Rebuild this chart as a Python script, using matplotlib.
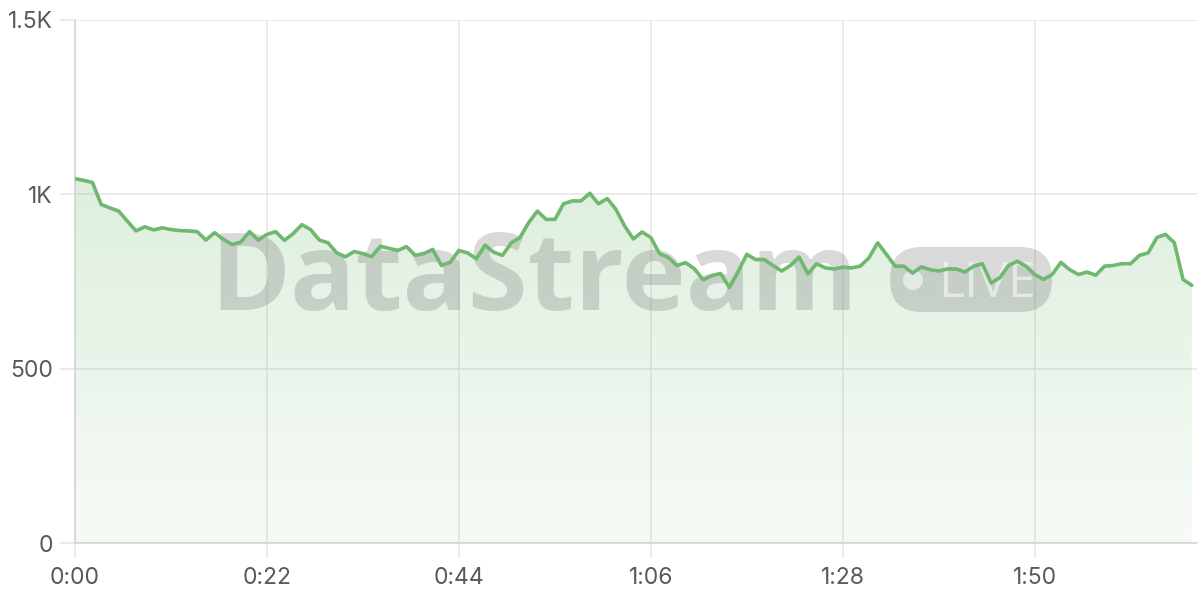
import numpy as np
import matplotlib
matplotlib.use("Agg")
import matplotlib.pyplot as plt
from matplotlib.patches import FancyBboxPatch, Circle
from matplotlib.transforms import IdentityTransform
from matplotlib.colors import LinearSegmentedColormap

# ---- data (one sample per second) ----
values = [1045, 1040, 1034, 971, 961, 952, 923, 895, 907, 898,
          904, 899, 896, 895, 893, 869, 890, 871, 856, 863,
          893, 869, 885, 893, 868, 887, 913, 899, 869, 861,
          832, 821, 836, 830, 821, 851, 845, 839, 850, 825,
          830, 842, 796, 805, 839, 832, 815, 854, 834, 825,
          861, 876, 919, 952, 928, 928, 973, 981, 981, 1003,
          973, 988, 957, 909, 872, 892, 876, 830, 819, 796,
          804, 786, 755, 767, 773, 733, 778, 828, 813, 813,
          796, 780, 796, 820, 772, 801, 789, 786, 791, 789,
          794, 818, 861, 828, 794, 794, 774, 792, 784, 780,
          786, 786, 777, 794, 801, 746, 761, 796, 808, 794,
          770, 756, 770, 805, 784, 770, 777, 768, 794, 796,
          801, 801, 825, 832, 876, 885, 861, 756, 739]
seconds = np.arange(len(values))
x_ticks = [0, 22, 44, 66, 88, 110]
x_tick_labels = ["0:00", "0:22", "0:44", "1:06", "1:28", "1:50"]
y_ticks = [0, 500, 1000, 1500]
y_tick_labels = ["0", "500", "1K", "1.5K"]

LINE = "#6fb86f"
GRID = "#e6e6e6"
TXT = "#595959"

plt.rcParams["font.family"] = ["Inter", "DejaVu Sans"]

fig = plt.figure(figsize=(12, 6), dpi=100)
ax = fig.add_axes([75 / 1200, 57 / 600, 1122 / 1200, 523 / 600])

xmax = 128.6
ax.set_xlim(0, xmax)
ax.set_ylim(0, 1500)

# gradient fill under the line
poly = ax.fill_between(seconds, values, 0, color="none", lw=0, zorder=1)
cmap = LinearSegmentedColormap.from_list(
    "g", [(0.435, 0.722, 0.435, 0.06), (0.435, 0.722, 0.435, 0.23)])
grad = np.linspace(0, 1, 256).reshape(-1, 1)
im = ax.imshow(grad, extent=[0, xmax, 0, max(values)], origin="lower",
               aspect="auto", cmap=cmap, zorder=1, interpolation="bilinear")
path = poly.get_paths()[0]
im.set_clip_path(path, transform=ax.transData)
ax.set_xlim(0, xmax)
ax.set_ylim(0, 1500)

# main line
ax.plot(seconds, values, color=LINE, lw=2.6, zorder=4,
        solid_joinstyle="round", solid_capstyle="round")

# watermark
wm_color = (0.45, 0.45, 0.45, 0.27)
ax.text(210, 600 - 310, "DataStream", transform=IdentityTransform(),
        fontsize=78, fontweight="bold", family=["Open Sans", "DejaVu Sans"],
        color=wm_color, ha="left", va="baseline", zorder=3)
pill = FancyBboxPatch((890, 600 - 312), 162, 65,
                      boxstyle="round,pad=0,rounding_size=32",
                      transform=IdentityTransform(), facecolor=wm_color,
                      edgecolor="none", zorder=3)
ax.add_artist(pill)
ax.add_artist(Circle((913, 600 - 280), 10, transform=IdentityTransform(),
                     facecolor=(1, 1, 1, 0.55), edgecolor="none", zorder=3))
ax.text(987, 600 - 297, "LIVE", transform=IdentityTransform(),
        fontsize=36, family=["Open Sans", "DejaVu Sans"],
        color=(1, 1, 1, 0.55), ha="center", va="baseline", zorder=3)

# axes styling
ax.set_xticks(x_ticks)
ax.set_xticklabels(x_tick_labels)
ax.set_yticks(y_ticks)
ax.set_yticklabels(y_tick_labels)
ax.grid(True, color=GRID, lw=1.1, zorder=0)
ax.set_axisbelow(True)
for s in ["top", "right"]:
    ax.spines[s].set_visible(False)
for s in ["left", "bottom"]:
    ax.spines[s].set_color("#d2d2d2")
    ax.spines[s].set_linewidth(1.1)
ax.tick_params(axis="both", length=11, width=1.1, color=GRID,
               labelsize=16.5, labelcolor=TXT)
ax.tick_params(axis="x", pad=6)
ax.tick_params(axis="y", pad=5)

fig.savefig("out.png", dpi=100)
